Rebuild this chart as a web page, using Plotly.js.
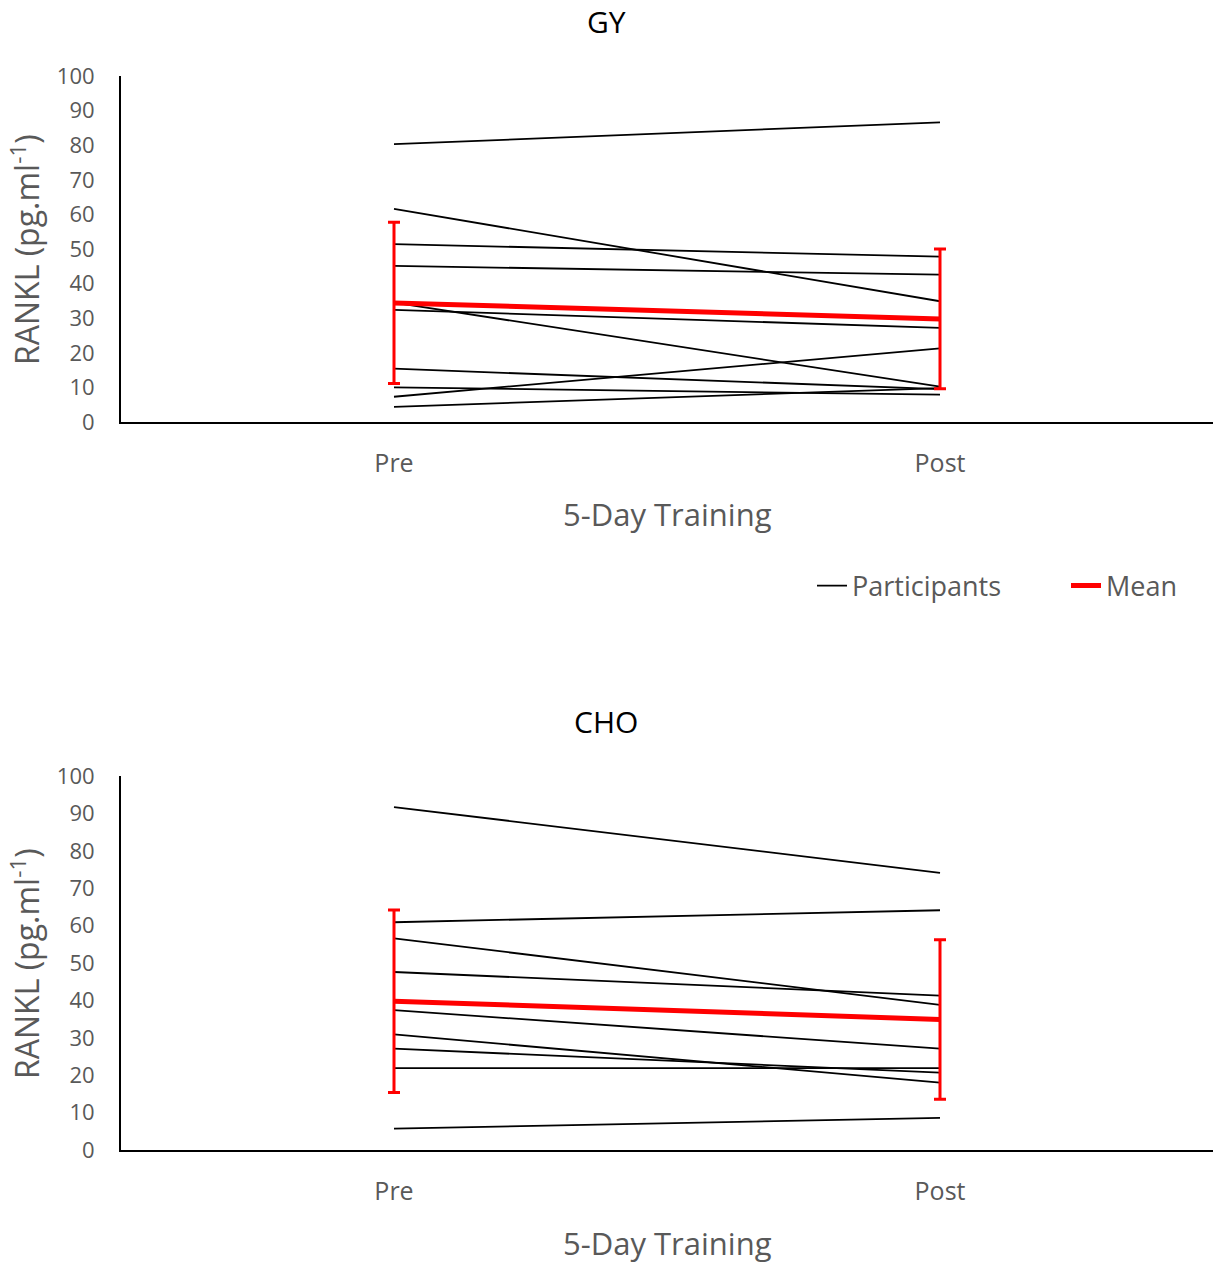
<!DOCTYPE html>
<html>
<head>
<meta charset="utf-8">
<script src="https://cdn.plot.ly/plotly-3.0.1.min.js"></script>
<style>html,body{margin:0;padding:0;background:#fff;}#chart{width:1215px;height:1264px;}</style>
</head>
<body>
<div id="chart"></div>
<script>
// Categories
const timepoints = ['Pre', 'Post'];
const panelTitles = ['GY', 'CHO'];

// GY panel: individual participants (Pre, Post)
const gyPre  = [80.3, 61.6, 51.4, 45.1, 34.5, 32.4, 15.4, 10.0, 7.3, 4.4];
const gyPost = [86.6, 34.9, 47.8, 42.6, 10.2, 27.2, 9.5, 7.9, 21.3, 9.8];
const gyMean = [34.4, 29.8];
const gySD   = [23.3, 20.2];

// CHO panel: individual participants (Pre, Post)
const choPre  = [91.7, 60.9, 56.6, 47.6, 37.4, 30.9, 27.1, 21.9, 5.7];
const choPost = [74.1, 64.1, 38.8, 41.3, 27.1, 18.0, 20.7, 21.9, 8.6];
const choMean = [39.8, 34.9];
const choSD   = [24.4, 21.3];

const yTicks = [0,10,20,30,40,50,60,70,80,90,100];

const FONT = 'Open Sans, Lato, sans-serif';
const GREY = '#595959';

function participantTrace(pre, post, xa, ya, showLegend) {
  const xs = [], ys = [];
  for (let i = 0; i < pre.length; i++) {
    xs.push(0, 1, null);
    ys.push(pre[i], post[i], null);
  }
  return {
    x: xs, y: ys, xaxis: xa, yaxis: ya, type: 'scatter', mode: 'lines',
    name: 'Participants', legend: 'legend', showlegend: showLegend,
    line: {color: '#000000', width: 1.8}, hoverinfo: 'skip', connectgaps: false
  };
}
function meanTrace(mean, sd, xa, ya, showLegend) {
  return {
    x: [0, 1], y: mean, xaxis: xa, yaxis: ya, type: 'scatter', mode: 'lines',
    name: 'Mean', legend: 'legend2', showlegend: showLegend,
    line: {color: '#ff0000', width: 5},
    error_y: {type: 'data', array: sd, visible: true, color: '#ff0000', thickness: 3, width: 6}
  };
}

const data = [
  participantTrace(gyPre, gyPost, 'x', 'y', true),
  meanTrace(gyMean, gySD, 'x', 'y', true),
  participantTrace(choPre, choPost, 'x2', 'y2', false),
  meanTrace(choMean, choSD, 'x2', 'y2', false)
];

const H = 1264;
function xAxis(anchor) {
  return {
    anchor: anchor, domain: [0, 1], range: [-0.5, 1.5],
    tickvals: [0, 1], ticktext: timepoints,
    showline: true, linecolor: '#000', linewidth: 2, showgrid: false, zeroline: false,
    ticks: '', ticklabelstandoff: 18,
    tickfont: {family: FONT, size: 25, color: GREY}, fixedrange: true
  };
}
function yAxis(anchor, top, bottom) {
  return {
    anchor: anchor, domain: [1 - bottom / H, 1 - top / H], range: [0, 100],
    tickvals: yTicks, showline: true, linecolor: '#000', linewidth: 2,
    showgrid: false, zeroline: false, ticks: '', ticklabelstandoff: 20,
    tickfont: {family: FONT, size: 22, color: GREY}, fixedrange: true
  };
}

const annotations = [];
[[22, 249, 514, 0], [721, 963, 1243, 1]].forEach(([ty, yc, xt, i]) => {
  annotations.push({text: panelTitles[i], xref: 'paper', yref: 'paper', x: (606 - 121) / 1092, y: 1 - ty / H,
    xanchor: 'center', yanchor: 'middle', showarrow: false, font: {family: FONT, size: 30, color: '#000'}});
  annotations.push({text: 'RANKL (pg.ml<sup>-1</sup>)', xref: 'paper', yref: 'paper', x: (25 - 121) / 1092, y: 1 - yc / H,
    xanchor: 'center', yanchor: 'middle', textangle: -90, showarrow: false, font: {family: FONT, size: 32, color: GREY}});
  annotations.push({text: '5-Day Training', xref: 'paper', yref: 'paper', x: (667 - 121) / 1092, y: 1 - xt / H,
    xanchor: 'center', yanchor: 'middle', showarrow: false, font: {family: FONT, size: 31, color: GREY}});
});

function legendAt(px) {
  return {orientation: 'h', x: (px - 121) / 1092, y: 1 - 586 / H, xanchor: 'left', yanchor: 'middle',
    font: {family: FONT, size: 27, color: GREY}, bgcolor: 'rgba(0,0,0,0)', borderwidth: 0};
}

const layout = {
  width: 1215, height: 1264,
  margin: {l: 121, r: 2, t: 0, b: 0},
  paper_bgcolor: '#fff', plot_bgcolor: '#fff',
  showlegend: true,
  legend: legendAt(812),
  legend2: legendAt(1066),
  xaxis: xAxis('y'),
  yaxis: yAxis('x', 76, 422),
  xaxis2: xAxis('y2'),
  yaxis2: yAxis('x2', 776, 1150),
  annotations: annotations
};

Plotly.newPlot('chart', data, layout, {displayModeBar: false, staticPlot: true});
</script>
</body>
</html>
